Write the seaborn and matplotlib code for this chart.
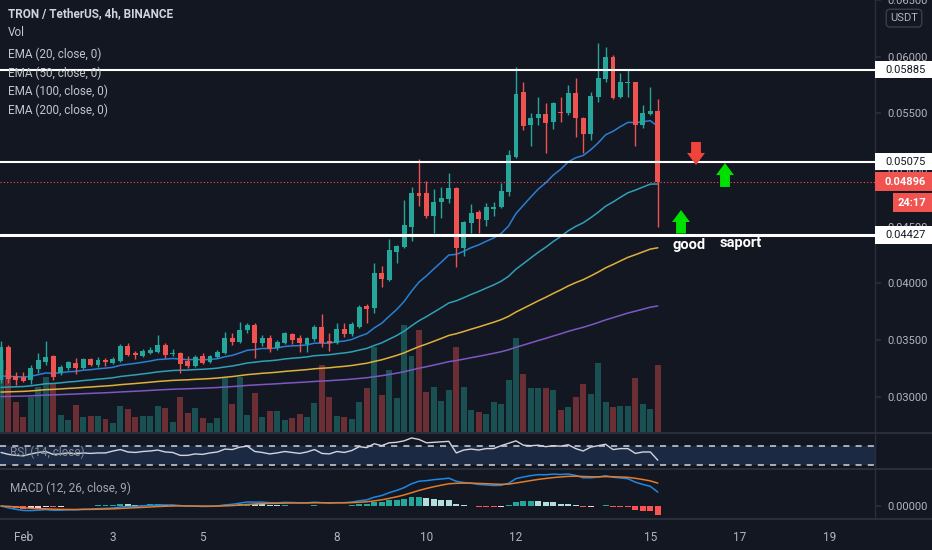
import numpy as np
import pandas as pd
import matplotlib
matplotlib.use('Agg')
import matplotlib.pyplot as plt
import matplotlib.dates as mdates
from matplotlib.patches import Rectangle
from matplotlib.transforms import blended_transform_factory
import seaborn as sns

# TRX/USDT 4h candles (first candle 2021-01-31 12:00)
opens = [
    0.03148, 0.03440, 0.03184, 0.03175, 0.03148, 0.03246, 0.03307, 0.03360, 0.03210, 0.03254,
    0.03299, 0.03254, 0.03334, 0.03281, 0.03325, 0.03299, 0.03316, 0.03448, 0.03387, 0.03360,
    0.03387, 0.03395, 0.03457, 0.03378, 0.03387, 0.03316, 0.03272, 0.03360, 0.03307, 0.03351,
    0.03387, 0.03519, 0.03484, 0.03590, 0.03634, 0.03475, 0.03519, 0.03431, 0.03475, 0.03554,
    0.03519, 0.03466, 0.03510, 0.03616, 0.03493, 0.03475, 0.03598, 0.03554, 0.03616, 0.03801,
    0.03784, 0.04092, 0.04030, 0.04277, 0.04321, 0.04498, 0.04798, 0.04798, 0.04595, 0.04718,
    0.04745, 0.04842, 0.04313, 0.04533, 0.04630, 0.04560, 0.04657, 0.04674, 0.04807, 0.05115,
    0.05689, 0.05398, 0.05459, 0.05495, 0.05424, 0.05512, 0.05503, 0.05680, 0.05459, 0.05318,
    0.05644, 0.05803, 0.05997, 0.05644, 0.05768, 0.05777, 0.05398, 0.05495, 0.05521]
highs = [
    0.03493, 0.03457, 0.03219, 0.03219, 0.03281, 0.03387, 0.03493, 0.03369, 0.03281, 0.03316,
    0.03343, 0.03343, 0.03343, 0.03351, 0.03343, 0.03351, 0.03466, 0.03475, 0.03404, 0.03422,
    0.03440, 0.03545, 0.03475, 0.03422, 0.03395, 0.03360, 0.03369, 0.03387, 0.03369, 0.03413,
    0.03572, 0.03563, 0.03660, 0.03651, 0.03651, 0.03545, 0.03545, 0.03501, 0.03572, 0.03563,
    0.03545, 0.03528, 0.03634, 0.03731, 0.03563, 0.03651, 0.03651, 0.03660, 0.03810, 0.03819,
    0.04180, 0.04154, 0.04392, 0.04339, 0.04736, 0.04851, 0.05098, 0.04904, 0.04833, 0.04851,
    0.04974, 0.04850, 0.04551, 0.04701, 0.04648, 0.04710, 0.04718, 0.04886, 0.05177, 0.05909,
    0.05777, 0.05503, 0.05644, 0.05592, 0.05600, 0.05644, 0.05750, 0.05812, 0.05468, 0.05689,
    0.06121, 0.06085, 0.06015, 0.05856, 0.05891, 0.05780, 0.05574, 0.05733, 0.05627]
lows = [
    0.03122, 0.03122, 0.03104, 0.03131, 0.03113, 0.03210, 0.03281, 0.03148, 0.03193, 0.03237,
    0.03201, 0.03246, 0.03272, 0.03263, 0.03272, 0.03290, 0.03307, 0.03360, 0.03334, 0.03351,
    0.03378, 0.03387, 0.03343, 0.03360, 0.03210, 0.03254, 0.03263, 0.03290, 0.03299, 0.03343,
    0.03378, 0.03457, 0.03475, 0.03563, 0.03343, 0.03448, 0.03395, 0.03413, 0.03466, 0.03466,
    0.03395, 0.03395, 0.03493, 0.03440, 0.03404, 0.03466, 0.03528, 0.03536, 0.03607, 0.03651,
    0.03739, 0.03969, 0.04022, 0.04180, 0.04313, 0.04374, 0.04683, 0.04577, 0.04445, 0.04577,
    0.04710, 0.04145, 0.04242, 0.04445, 0.04445, 0.04507, 0.04595, 0.04665, 0.04771, 0.05106,
    0.05353, 0.05212, 0.05398, 0.05151, 0.05362, 0.05424, 0.05486, 0.05292, 0.05151, 0.05265,
    0.05600, 0.05777, 0.05627, 0.05636, 0.05644, 0.05212, 0.05371, 0.05486, 0.04498]
closes = [
    0.03440, 0.03157, 0.03148, 0.03140, 0.03254, 0.03325, 0.03351, 0.03175, 0.03263, 0.03307,
    0.03254, 0.03334, 0.03281, 0.03325, 0.03307, 0.03334, 0.03448, 0.03369, 0.03369, 0.03404,
    0.03413, 0.03457, 0.03369, 0.03387, 0.03290, 0.03272, 0.03351, 0.03299, 0.03360, 0.03395,
    0.03519, 0.03484, 0.03590, 0.03634, 0.03475, 0.03519, 0.03422, 0.03484, 0.03563, 0.03501,
    0.03475, 0.03519, 0.03616, 0.03475, 0.03475, 0.03598, 0.03554, 0.03643, 0.03792, 0.03775,
    0.04092, 0.04039, 0.04295, 0.04330, 0.04515, 0.04798, 0.04771, 0.04595, 0.04718, 0.04754,
    0.04842, 0.04313, 0.04542, 0.04621, 0.04568, 0.04674, 0.04674, 0.04815, 0.05133, 0.05671,
    0.05389, 0.05459, 0.05495, 0.05415, 0.05592, 0.05503, 0.05680, 0.05459, 0.05318, 0.05653,
    0.05812, 0.05997, 0.05636, 0.05777, 0.05777, 0.05398, 0.05503, 0.05521, 0.04896]
# volume (relative units)
volume = [72, 62, 30, 15, 35, 45, 55, 49, 17, 12,
          27, 15, 16, 16, 13, 9, 26, 23, 15, 16,
          16, 26, 24, 10, 35, 19, 24, 14, 9, 14,
          54, 28, 55, 17, 39, 15, 21, 21, 12, 14,
          18, 15, 29, 67, 35, 16, 15, 13, 30, 44,
          85, 37, 62, 34, 107, 76, 102, 40, 45, 31,
          42, 85, 45, 22, 20, 18, 30, 28, 52, 94,
          58, 44, 44, 44, 42, 22, 25, 35, 48, 38,
          69, 30, 25, 26, 26, 54, 28, 23, 67]
rsi = [56, 52, 50, 49, 53, 56, 58, 52, 53, 55,
       53, 55, 54, 55, 55, 59, 62, 57, 56, 58,
       59, 61, 57, 56, 50, 50, 53, 52, 55, 57,
       63, 62, 67, 69, 58, 56, 53, 55, 58, 56,
       54, 57, 62, 54, 53, 58, 56, 60, 68, 66,
       74, 70, 76, 77, 80, 86, 83, 76, 77, 78,
       79, 55, 61, 63, 61, 64, 64, 70, 75, 80,
       71, 70, 71, 68, 70, 69, 72, 64, 59, 67,
       70, 73, 62, 64, 64, 54, 57, 57, 40]

# EMA values at the left edge of the chart
ema_seed = {20: 0.03157, 50: 0.03069, 100: 0.03034, 200: 0.02998}
ema_colors = {20: '#2a7fd4', 50: '#2fa0b5', 100: '#e0b13a', 200: '#7e57c2'}

levels = [0.05885, 0.05075, 0.04427]
last_price = 0.04896
countdown = '24:17'
tick_days = ['2021-02-01', '2021-02-03', '2021-02-05', '2021-02-08', '2021-02-10',
             '2021-02-12', '2021-02-15', '2021-02-17', '2021-02-19']
tick_labels = ['Feb', '3', '5', '8', '10', '12', '15', '17', '19']
price_ticks = [0.030, 0.035, 0.040, 0.045, 0.050, 0.055, 0.060, 0.065]


def ema(vals, span, seed=None):
    a = 2. / (span + 1)
    e = vals[0] if seed is None else seed
    out = []
    for v in vals:
        e = e + a * (v - e)
        out.append(e)
    return np.array(out)


BG = '#131722'
FG = '#b2b5be'
LINE = '#2a2e39'
UP = '#26a69a'
DOWN = '#ef5350'

sns.set_theme(style='dark', rc={'axes.facecolor': BG, 'figure.facecolor': BG,
                                'text.color': FG, 'xtick.color': FG, 'ytick.color': FG,
                                'axes.edgecolor': LINE})
plt.rcParams['font.family'] = ['Roboto', 'DejaVu Sans']

times = pd.date_range('2021-01-31 12:00', periods=len(closes), freq='4h')
o, h, l, c = map(np.array, (opens, highs, lows, closes))
up = c >= o
cols = np.where(up, UP, DOWN)

fig = plt.figure(figsize=(9.32, 5.5), dpi=100)
W = 875 / 932.
ax_vol = fig.add_axes([0, 0.21455, W, 0.78545])
ax = fig.add_axes([0, 0.21455, W, 0.78545], sharex=ax_vol)
ax_rsi = fig.add_axes([0, 0.14909, W, 0.06364], sharex=ax_vol)
ax_macd = fig.add_axes([0, 0.05818, W, 0.08909], sharex=ax_vol)
ax.patch.set_alpha(0)

# volume behind the candles
ax_vol.bar(times, volume, width=0.8 / 6, color=cols, alpha=0.4, linewidth=0)
ax_vol.set_ylim(0, 432)
ax_vol.set_yticks([])

# candles
ax.vlines(times, l, h, colors=cols, lw=1, zorder=3)
body = np.maximum(np.abs(c - o), 0.00004)
ax.bar(times, body, bottom=np.minimum(o, c), width=0.11, color=cols, linewidth=0, zorder=4)

for span in [20, 50, 100, 200]:
    sns.lineplot(x=times, y=ema(c, span, ema_seed[span]), ax=ax,
                 color=ema_colors[span], linewidth=1.1, zorder=2)

for lv in levels:
    ax.axhline(lv, color='white', lw=2.2 if lv == levels[-1] else 1.5, zorder=5)
ax.axhline(last_price, color='#f05350', lw=0.8, ls=(0, (1, 2)), zorder=5)

# arrows + notes
feb1 = mdates.date2num(pd.Timestamp('2021-02-01'))
ax.arrow(feb1 + 15.02, 0.05248, 0, -0.00203, width=0.22, head_width=0.40,
         head_length=0.00106, length_includes_head=True, color='#f0433a', lw=0, zorder=6)
for xo, y0, y1 in [(15.667, 0.04851, 0.05062), (14.685, 0.04440, 0.04648)]:
    ax.arrow(feb1 + xo, y0, 0, y1 - y0, width=0.22, head_width=0.40,
             head_length=0.00106, length_includes_head=True, color='#00e000', lw=0, zorder=6)
ax.text(feb1 + 14.86, 0.04339, 'good', color='white', fontsize=10.5, weight='bold',
        ha='center', va='center', zorder=6)
ax.text(feb1 + 16.02, 0.04357, 'saport', color='white', fontsize=10.5, weight='bold',
        ha='center', va='center', zorder=6)

ax.set_ylim(0.02690, 0.0650)
ax.yaxis.tick_right()
ax.set_yticks(price_ticks)
ax.set_yticklabels(['%.5f' % p for p in price_ticks])
ax.tick_params(axis='y', length=4, color=LINE, labelsize=8, pad=5, labelcolor=FG)

# price tags on the right scale
trans = blended_transform_factory(ax.transAxes, ax.transData)
bw = 57 / 875.
for lv in levels:
    ax.add_patch(Rectangle((1.0, lv - 0.00076), bw, 0.00152, transform=trans,
                           facecolor='white', edgecolor='none', clip_on=False, zorder=10))
    ax.text(885 / 875., lv, '%.5f' % lv, transform=trans, fontsize=8, color=BG,
            va='center', ha='left', clip_on=False, zorder=11)
ax.add_patch(Rectangle((1.0, last_price - 0.00083), bw, 0.00166, transform=trans,
                       facecolor='#f05350', edgecolor='none', clip_on=False, zorder=10))
ax.text(885 / 875., last_price, '%.5f' % last_price, transform=trans, fontsize=8,
        color='white', weight='bold', va='center', ha='left', clip_on=False, zorder=11)
ax.add_patch(Rectangle((893 / 875., 0.04630), 39 / 875., 0.00168, transform=trans,
                       facecolor='#f05350', edgecolor='none', clip_on=False, zorder=10))
ax.text(912 / 875., 0.04714, countdown, transform=trans, fontsize=8, color='white',
        weight='bold', va='center', ha='center', clip_on=False, zorder=11)
ax.text(904 / 875., 0.958, 'USDT', transform=ax.transAxes, fontsize=8, color=FG,
        ha='center', va='center', clip_on=False, zorder=11,
        bbox=dict(boxstyle='round,pad=0.35', fc=BG, ec='#3a3e4a', lw=1))

# RSI pane
ax_rsi.axhspan(30, 70, color='#1b2a42', lw=0)
for lv in [70, 30]:
    ax_rsi.axhline(lv, color='#d1d4dc', lw=1.1, ls=(0, (4, 4)))
ax_rsi.text(10 / 875., 0.46, 'RSI (14, close)', transform=ax_rsi.transAxes,
            fontsize=8.5, color='#868993', va='center')
sns.lineplot(x=times, y=rsi, ax=ax_rsi, color='#d1d4dc', linewidth=1)
ax_rsi.set_ylim(23.8, 96.3)
ax_rsi.set_yticks([])

# MACD pane
fast = ema(c, 12, c[0])
slow = ema(c, 26, c[0])
macd = fast - slow
signal = ema(macd, 9, 0.0)
hist = macd - signal
hcols = []
for i in range(len(hist)):
    prev = hist[i - 1] if i > 0 else 0
    if hist[i] >= 0:
        hcols.append('#26a69a' if hist[i] > prev else '#b2dfdb')
    else:
        hcols.append('#ff5252' if hist[i] < prev else '#ffcdd2')
ax_macd.bar(times, hist, width=0.8 / 6, color=hcols, linewidth=0)
sns.lineplot(x=times, y=macd, ax=ax_macd, color='#1e88e5', linewidth=1.1)
sns.lineplot(x=times, y=signal, ax=ax_macd, color='#e07b2c', linewidth=1.1)
peak = max(macd.max(), signal.max())
ax_macd.set_ylim(-0.375 * peak, 1.156 * peak)
ax_macd.yaxis.tick_right()
ax_macd.set_yticks([0])
ax_macd.set_yticklabels(['0.00000'])
ax_macd.tick_params(axis='y', length=4, color=LINE, labelsize=8, pad=5, labelcolor=FG)
ax_macd.text(10 / 875., 0.61, 'MACD (12, 26, close, 9)', transform=ax_macd.transAxes,
             fontsize=8.5, color='#a3a6af', va='center')

# time axis
ax_macd.set_xlim(pd.Timestamp('2021-02-01') - pd.Timedelta(hours=12.54),
                 pd.Timestamp('2021-02-01') + pd.Timedelta(days=19.017))
ax_macd.set_xticks(pd.to_datetime(tick_days))
ax_macd.set_xticklabels(tick_labels)
ax_macd.tick_params(axis='x', length=0, labelsize=8.5, pad=9, labelcolor=FG)
for a in [ax_vol, ax, ax_rsi]:
    a.tick_params(axis='x', labelbottom=False, bottom=False, length=0)

for a in [ax_vol, ax, ax_rsi, ax_macd]:
    a.set_xlabel('')
    a.set_ylabel('')
    a.grid(False)
    for s in ['top', 'bottom', 'left']:
        a.spines[s].set_visible(False)
    a.spines['right'].set_color(LINE)
    a.spines['right'].set_linewidth(1)
ax_vol.spines['right'].set_visible(False)

# pane separators
for yp in [432.5, 468.5, 518.5]:
    fig.add_artist(plt.Line2D([0, 1], [1 - yp / 550., 1 - yp / 550.],
                              transform=fig.transFigure, color=LINE, lw=1.5))

# legend block
legend_lines = [('TRON / TetherUS, 4h, BINANCE', 14), ('Vol', 32),
                ('EMA (20, close, 0)', 54), ('EMA (50, close, 0)', 73),
                ('EMA (100, close, 0)', 91), ('EMA (200, close, 0)', 110)]
for i, (txt, yp) in enumerate(legend_lines):
    fig.text(8 / 932., 1 - yp / 550., txt, fontsize=8.5, va='center',
             color='#d1d4dc' if i == 0 else '#c3c5cc', weight='semibold' if i == 0 else 'normal')

fig.savefig('out.png', dpi=100, facecolor=BG)
plt.close()
